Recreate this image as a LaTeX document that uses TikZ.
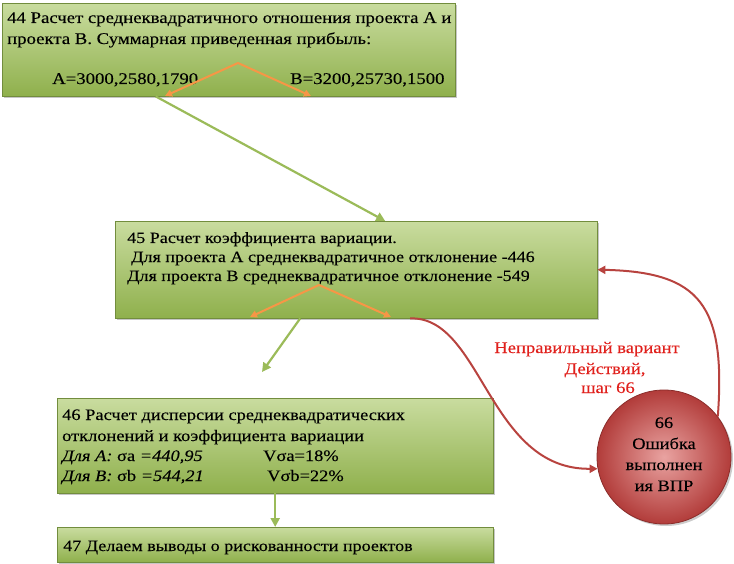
\documentclass[tikz,border=0pt]{standalone}
\usepackage{fontspec}
\setmainfont{Liberation Serif}[FakeStretch=1.15]
\newfontfamily\rmf{Liberation Serif}[FakeStretch=1.15,FakeBold=0.12]
\usetikzlibrary{arrows.meta,shadows,calc}
\definecolor{gtop}{HTML}{C9DC9F}
\definecolor{gbot}{HTML}{8FB04C}
\definecolor{garrow}{HTML}{9BBB59}
\definecolor{oarrow}{HTML}{F79646}
\definecolor{rarrow}{HTML}{B8433F}
\definecolor{rlabel}{HTML}{E0201C}
\definecolor{cin}{HTML}{E9A3A1}
\definecolor{cout}{HTML}{B23C3A}
\definecolor{cborder}{HTML}{8A2C2A}
\tikzset{
  box/.style={rectangle, anchor=north west, top color=gtop, bottom color=gbot,
    draw=gbot!80!black, line width=0.4pt, inner sep=0pt,
    drop shadow={shadow xshift=2pt, shadow yshift=-2pt, opacity=0.45}},
  txt/.style={anchor=base west, inner sep=0pt, font=\rmf\fontsize{16}{20}\selectfont},
  txtb/.style={txt, font=\rmf\fontsize{16.3}{20}\selectfont},
  txtc/.style={txt, font=\rmf\fontsize{15.7}{20}\selectfont},
  ctxt/.style={anchor=base, inner sep=0pt, font=\rmf\fontsize{16}{20}\selectfont},
  lab/.style={anchor=base, inner sep=0pt, text=rlabel, font=\rmf\fontsize{16.2}{20}\selectfont},
  garr/.style={draw=garrow, line width=2.2pt, -{Triangle[length=9pt,width=9pt]}},
  oarr/.style={draw=oarrow, line width=2pt, -{Triangle[length=7pt,width=7pt]}},
  rarr/.style={draw=rarrow, line width=2pt, -{Triangle[length=8pt,width=8pt]}},
}
\begin{document}
\begin{tikzpicture}[x=1pt,y=-1pt]
\useasboundingbox (0,0) rectangle (734,564);
% boxes
\node[box, minimum width=453pt, minimum height=93pt] (b44) at (2,3) {};
\node[box, minimum width=482pt, minimum height=97pt] (b45) at (115,221) {};
\node[box, minimum width=436pt, minimum height=95pt] (b46) at (57,398) {};
\node[box, minimum width=436pt, minimum height=35pt] (b47) at (57,527) {};
% circle
\node[circle, minimum size=134pt, inner sep=0pt, draw=cborder, line width=0.8pt,
  inner color=cin, outer color=cout,
  drop shadow={shadow xshift=2pt, shadow yshift=-2pt, opacity=0.4}] (c66) at (664,457) {};
\node[ctxt] (c1) at (664,428) {66};
\node[ctxt] (c2) at (664,449) {Ошибка};
\node[ctxt] (c3) at (664,470) {выполнен};
\node[ctxt] (c4) at (664,491) {ия ВПР};
% texts box 44
\node[txtb] (t44a) at (7,23) {44 Расчет среднеквадратичного отношения проекта А и};
\node[txtb] (t44b) at (7,44) {проекта В. Суммарная приведенная прибыль:};
\node[txtb] (t44c) at (52,84) {А=3000,2580,1790};
\node[txtb] (t44d) at (290,84) {В=3200,25730,1500};
% texts box 45
\node[txtc] (t45a) at (127,243) {45 Расчет коэффициента вариации.};
\node[txtc] (t45b) at (131,262) {Для проекта А среднеквадратичное отклонение -446};
\node[txtc] (t45c) at (127,281) {Для проекта В среднеквадратичное отклонение -549};
% texts box 46
\node[txt] (t46a) at (62,420) {46 Расчет дисперсии среднеквадратических};
\node[txt] (t46b) at (62,441) {отклонений и коэффициента вариации};
\node[txt] (t46c) at (62,461) {\textit{Для А:} σa \textit{=440,95}};
\node[txt] (t46d) at (263,461) {Vσa=18\%};
\node[txt] (t46e) at (62,481) {\textit{Для В:} σb \textit{=544,21}};
\node[txt] (t46f) at (267,481) {Vσb=22\%};
% text box 47
\node[txtc] (t47) at (63,551) {47 Делаем выводы о рискованности проектов};
% red label
\node[lab] (l1) at (587,353) {Неправильный вариант};
\node[lab] (l2) at (605,374) {Действий,};
\node[lab] (l3) at (608,393) {шаг 66};
% orange arrows
\coordinate (ap44) at (238,63);
\coordinate (ap45) at (319,285);
\draw[oarr] (ap44) -- (165,96);
\draw[oarr] (ap44) -- (311,96);
\draw[oarr] (ap45) -- (250,317);
\draw[oarr] (ap45) -- (391,317);
% green arrows
\coordinate (free) at (262,372);
\draw[garr] ([xshift=-73pt]b44.south) -- ([xshift=29pt]b45.north);
\draw[garr] ([xshift=-56pt]b45.south) -- (free);
\draw[garr] (b46.south) -- (b47.north);
% red curves
\draw[rarr] ([xshift=54pt]b45.south) .. controls (482,316) and (488,470) .. (c66.190);
\draw[rarr] (c66.37) .. controls (726,305) and (700,272) .. (b45.east);
\end{tikzpicture}
\end{document}
